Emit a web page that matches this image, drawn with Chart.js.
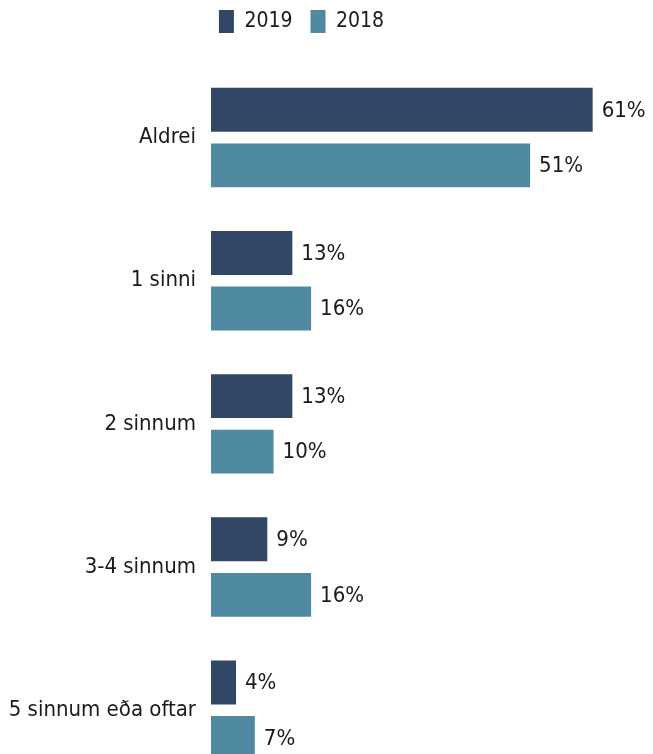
<!DOCTYPE html>
<html>
<head>
<meta charset="utf-8">
<script src="https://cdn.jsdelivr.net/npm/chart.js@4/dist/chart.umd.min.js"></script>
<style>
html,body{margin:0;padding:0;background:#fff;overflow:hidden;}
#wrap{width:653px;height:802px;}
</style>
</head>
<body>
<div id="wrap"><canvas id="c" width="653" height="802"></canvas></div>
<script>
const categories = ["Aldrei", "1 sinni", "2 sinnum", "3-4 sinnum", "5 sinnum eða oftar"];
const values2019 = [61, 13, 13, 9, 4];
const values2018 = [51, 16, 10, 16, 7];
const seriesNames = ["2019", "2018"];

const FONT = "'DejaVu Sans Condensed', 'DejaVu Sans', sans-serif";

const valueLabels = {
  id: 'valueLabels',
  afterDatasetsDraw(chart) {
    const ctx = chart.ctx;
    ctx.save();
    ctx.font = "22px " + FONT;
    ctx.fillStyle = '#1a1a1a';
    ctx.textAlign = 'left';
    ctx.textBaseline = 'middle';
    chart.data.datasets.forEach((ds, i) => {
      const meta = chart.getDatasetMeta(i);
      meta.data.forEach((bar, j) => {
        ctx.fillText(ds.data[j] + '%', bar.x + 9, bar.y + 1);
      });
    });
    ctx.restore();
  }
};

new Chart(document.getElementById('c'), {
  type: 'bar',
  data: {
    labels: categories,
    datasets: [
      { label: seriesNames[0], data: values2019, backgroundColor: '#324666', borderWidth: 0,
        categoryPercentage: 0.776, barPercentage: 0.79 },
      { label: seriesNames[1], data: values2018, backgroundColor: '#4f89a2', borderWidth: 0,
        categoryPercentage: 0.776, barPercentage: 0.79 }
    ]
  },
  options: {
    indexAxis: 'y',
    responsive: false,
    animation: false,
    layout: { padding: { left: 0, right: 50, top: -8, bottom: 0 } },
    plugins: {
      legend: {
        position: 'top',
        labels: {
          boxWidth: 15, boxHeight: 23, padding: 18,
          color: '#1a1a1a',
          font: { family: FONT, size: 21 }
        }
      },
      tooltip: { enabled: false }
    },
    scales: {
      x: {
        position: 'top', min: 0, max: 62.65,
        afterFit(s) { s.height = 23; },
        grid: { display: false },
        border: { display: false },
        ticks: { display: false }
      },
      y: {
        afterFit(s) { s.width = 211; },
        grid: { display: false },
        border: { display: false },
        ticks: { padding: 7, color: '#1a1a1a', font: { family: FONT, size: 22 } }
      }
    }
  },
  plugins: [valueLabels]
});
</script>
</body>
</html>
